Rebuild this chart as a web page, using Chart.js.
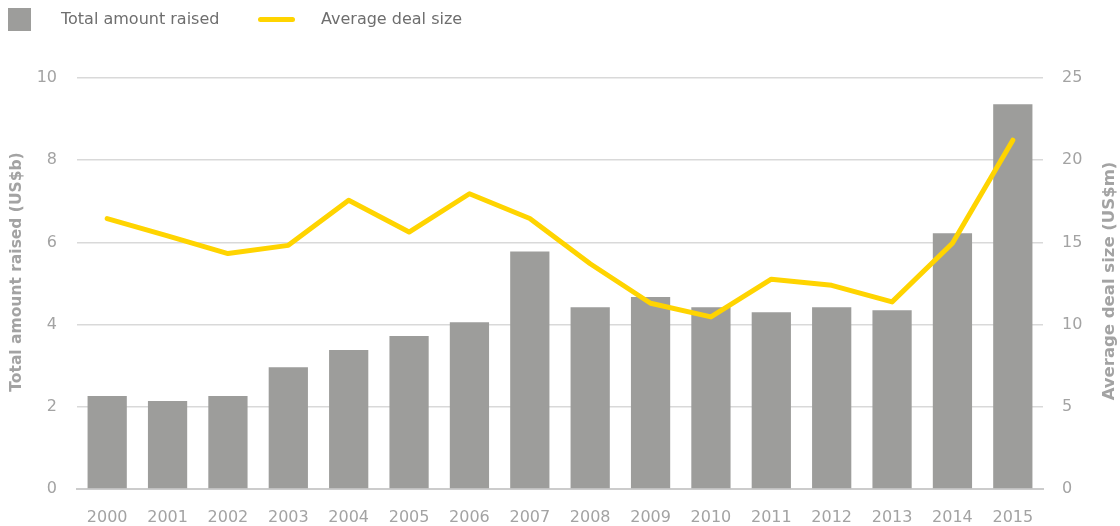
<!DOCTYPE html>
<html>
<head>
<meta charset="utf-8">
<script src="https://cdn.jsdelivr.net/npm/chart.js@4/dist/chart.umd.min.js"></script>
<style>
  html, body { margin: 0; padding: 0; background: #ffffff; }
  #wrap { position: relative; width: 1120px; height: 526px; }
  #legend { position: absolute; left: 0; top: 0; height: 40px; font-family: "DejaVu Sans", sans-serif; font-size: 16px; color: #6e6e6e; }
  .swatch-bar { position: absolute; left: 8px; top: 8px; width: 23px; height: 23px; background: #9d9d9b; }
  .swatch-line { position: absolute; left: 258px; top: 17px; width: 37px; height: 5px; border-radius: 3px; background: #ffd400; }
  .lab { position: absolute; top: 9px; white-space: nowrap; line-height: 20px; }
</style>
</head>
<body>
<div id="wrap">
  <canvas id="chart" width="1120" height="526"></canvas>
  <div id="legend">
    <div class="swatch-bar"></div><div class="lab" style="left:61px">Total amount raised</div>
    <div class="swatch-line"></div><div class="lab" style="left:321px">Average deal size</div>
  </div>
</div>
<script>
// Years on the x axis
const years = ['2000','2001','2002','2003','2004','2005','2006','2007','2008','2009','2010','2011','2012','2013','2014','2015'];
// Total amount raised, US$ billions (bars, left axis)
const totalRaised = [2.26, 2.14, 2.26, 2.96, 3.38, 3.72, 4.06, 5.78, 4.42, 4.67, 4.42, 4.30, 4.42, 4.35, 6.22, 9.36];
// Average deal size, US$ millions (line, right axis)
const avgDealSize = [16.45, 15.4, 14.32, 14.82, 17.56, 15.63, 17.96, 16.45, 13.7, 11.3, 10.47, 12.76, 12.39, 11.38, 14.95, 21.22];
// Axis ranges and titles
const leftMax = 10, leftStep = 2;
const rightMax = 25, rightStep = 5;
const leftTitle = 'Total amount raised (US$b)';
const rightTitle = 'Average deal size (US$m)';

const tickColor = '#a3a3a3';
const tickFont = { family: 'DejaVu Sans', size: 16 };

// Draws both vertical axis titles reading bottom-to-top
const axisTitles = {
  id: 'axisTitles',
  afterDraw(chart) {
    const { ctx } = chart;
    ctx.save();
    ctx.fillStyle = '#a3a3a3';
    ctx.textAlign = 'center';
    ctx.textBaseline = 'middle';
    ctx.save();
    ctx.font = 'bold 15.5px "DejaVu Sans", sans-serif';
    ctx.translate(17, 272);
    ctx.rotate(-Math.PI / 2);
    ctx.fillText(leftTitle, 0, 0);
    ctx.restore();
    ctx.save();
    ctx.font = 'bold 16.5px "DejaVu Sans", sans-serif';
    ctx.translate(1110, 281);
    ctx.rotate(-Math.PI / 2);
    ctx.fillText(rightTitle, 0, 0);
    ctx.restore();
    ctx.restore();
  }
};

new Chart(document.getElementById('chart'), {
  data: {
    labels: years,
    datasets: [
      {
        type: 'line',
        label: 'Average deal size',
        data: avgDealSize,
        yAxisID: 'yRight',
        borderColor: '#ffd400',
        borderWidth: 5,
        pointRadius: 0,
        tension: 0,
        borderCapStyle: 'round',
        borderJoinStyle: 'round',
        order: 0
      },
      {
        type: 'bar',
        label: 'Total amount raised',
        data: totalRaised,
        yAxisID: 'yLeft',
        backgroundColor: '#9d9d9b',
        categoryPercentage: 1.0,
        barPercentage: 0.65,
        order: 1
      }
    ]
  },
  options: {
    responsive: false,
    animation: false,
    layout: { padding: { top: 78, left: 0, right: 0, bottom: 0 } },
    plugins: { legend: { display: false }, tooltip: { enabled: false } },
    scales: {
      x: {
        grid: { display: false, drawTicks: false },
        border: { display: true, color: '#cccccc', width: 2 },
        ticks: { color: tickColor, font: tickFont, padding: 19, maxRotation: 0, autoSkip: false },
        afterFit(s) { s.height = 37; }
      },
      yLeft: {
        position: 'left',
        min: 0, max: leftMax,
        grid: { color: '#d9d9d9', lineWidth: 1.5, drawTicks: false },
        border: { display: false },
        ticks: { stepSize: leftStep, color: tickColor, font: tickFont, padding: 20 },
        afterFit(s) { s.width = 77; }
      },
      yRight: {
        position: 'right',
        min: 0, max: rightMax,
        grid: { display: false, drawTicks: false },
        border: { display: false },
        ticks: { stepSize: rightStep, color: tickColor, font: tickFont, padding: 19 },
        afterFit(s) { s.width = 77; }
      }
    }
  },
  plugins: [axisTitles]
});
</script>
</body>
</html>
